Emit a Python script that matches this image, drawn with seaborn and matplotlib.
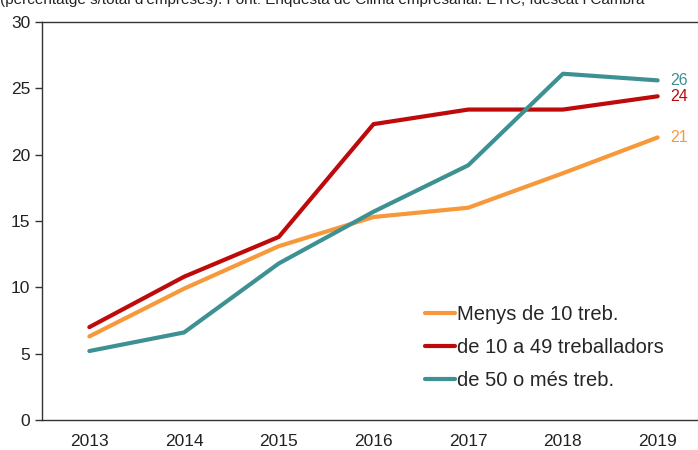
import pandas as pd
import matplotlib
matplotlib.use('Agg')
import matplotlib.pyplot as plt
import seaborn as sns

years = [2013, 2014, 2015, 2016, 2017, 2018, 2019]
menys_10 = [6.3, 9.9, 13.1, 15.3, 16.0, 18.6, 21.3]
de_10_49 = [7.0, 10.8, 13.8, 22.3, 23.4, 23.4, 24.4]
de_50_mes = [5.2, 6.6, 11.8, 15.7, 19.2, 26.1, 25.6]

series_names = ['Menys de 10 treb.', 'de 10 a 49 treballadors', 'de 50 o més treb.']
end_labels = ['21', '24', '26']
colors = ['#F7993B', '#BE0A0A', '#3E9193']

df = pd.DataFrame({'any': years * 3,
                   'valor': menys_10 + de_10_49 + de_50_mes,
                   'serie': [series_names[0]] * 7 + [series_names[1]] * 7 + [series_names[2]] * 7})

sns.set_style('white')
plt.rcParams['font.family'] = ['Liberation Sans', 'DejaVu Sans']

fig = plt.figure(figsize=(6.98, 4.5), dpi=100)
ax = fig.add_axes([42 / 698, 30 / 450, 663 / 698, 398 / 450])

sns.lineplot(data=df, x='any', y='valor', hue='serie', palette=colors,
             linewidth=3, ax=ax, legend=True)

# etiquetes al final de cada serie
for name, lab, col in zip(series_names, end_labels, colors):
    last = df[(df['serie'] == name) & (df['any'] == years[-1])]['valor'].iloc[0]
    ax.text(years[-1] + 0.13, last, lab, color=col, fontsize=11.5, va='center', ha='left')

ax.set_xlim(2012.5, 2019.5)
ax.set_ylim(0, 30)
ax.set_xticks(years)
ax.set_yticks(range(0, 31, 5))
ax.set_xlabel('')
ax.set_ylabel('')
ax.tick_params(axis='both', labelsize=12.5, colors='#222222', length=0)
ax.tick_params(axis='y', left=True, length=5, width=1, color='#333333')
ax.tick_params(axis='x', pad=10)
for s in ['left', 'bottom', 'top']:
    ax.spines[s].set_color('#333333')
    ax.spines[s].set_linewidth(1)
ax.spines['right'].set_visible(False)

leg = ax.legend(loc='lower left', bbox_to_anchor=(0.55, 0.03), frameon=False,
                fontsize=14.5, handlelength=1.5, handletextpad=0.1, labelspacing=0.7)
for h in leg.get_lines():
    h.set_linewidth(3)

fig.text(0.0, 1.0, "(percentatge s/total d'empreses). Font: Enquesta de Clima empresarial. ETIC, Idescat i Cambra",
         fontsize=11, ha='left', va='center', color='#222222')

fig.savefig('out.png', dpi=100)
